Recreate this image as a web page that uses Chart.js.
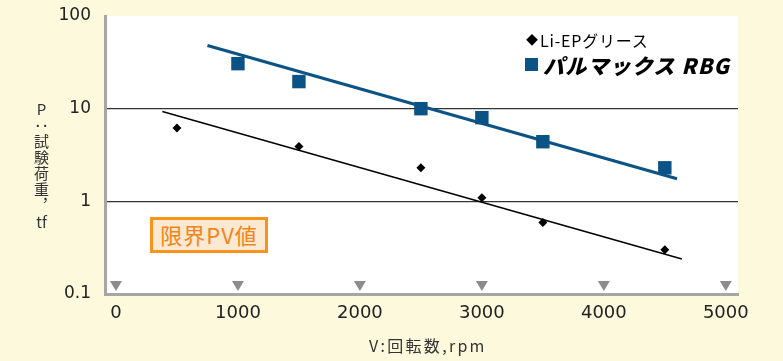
<!DOCTYPE html>
<html>
<head>
<meta charset="utf-8">
<script src="https://cdn.jsdelivr.net/npm/chart.js@4"></script>
<style>
  body { margin: 0; background: #fcf9dc; }
  #wrap { position: relative; width: 783px; height: 361px; }
  canvas { position: absolute; left: 0; top: 0; }
  .txt { position: absolute; color: #222; white-space: nowrap; font-family: "Noto Sans CJK JP", sans-serif; }
</style>
</head>
<body>
<div id="wrap">
  <canvas id="pvChart" width="783" height="361"></canvas>
  <div class="txt" id="ytitle" style="left:31px; top:102px; font-size:15px; writing-mode:vertical-rl; text-orientation:upright; letter-spacing:1px; color:#333;">P：試験荷重，<span style="text-combine-upright:all; letter-spacing:2px;">tf</span></div>
  <div class="txt" style="left:369px; top:333px; font-size:16px; letter-spacing:2.3px; color:#333;">V:回転数,rpm</div>
  <div class="txt" style="left:526px; top:31px; font-size:12px; color:#000;">◆</div>
  <div class="txt" style="left:540px; top:28px; font-size:16px; letter-spacing:0.8px; color:#000;">Li-EPグリース</div>
  <div style="position:absolute; left:525px; top:58px; width:13px; height:13px; background:#0b5285;"></div>
  <div class="txt" style="left:543px; top:50px; font-size:21px; font-weight:900; font-style:italic; letter-spacing:1.2px; color:#000;">パルマックス RBG</div>
  <div class="txt" style="left:150px; top:217px; width:118px; height:36px; box-sizing:border-box; border:3px solid #f7931e; background:#fde8d2; color:#f08519; font-size:22px; line-height:29px; letter-spacing:1px; text-align:center;">限界PV値</div>
</div>
<script>
// 目盛り
const xTicks = [0, 1000, 2000, 3000, 4000, 5000];
const yTicks = [0.1, 1, 10, 100];

// パルマックスRBG（測定値）
const rbgRpm = [1000, 1500, 2500, 3000, 3500, 4500];
const rbgLoad = [30.6, 19.6, 10, 8.0, 4.4, 2.3];

// Li-EPグリース（測定値）
const liRpm = [500, 1500, 2500, 3000, 3500, 4500];
const liLoad = [6.2, 3.9, 2.3, 1.09, 0.59, 0.30];

// 近似線
const rbgFitRpm = [750, 4600];
const rbgFitLoad = [48, 1.75];
const liFitRpm = [380, 4640];
const liFitLoad = [9.3, 0.239];

const toXY = (xs, ys) => xs.map((x, i) => ({ x: x, y: ys[i] }));

// 背景と▼マーカー
const decoPlugin = {
  id: 'deco',
  beforeDraw(chart) {
    const { ctx, chartArea: a } = chart;
    ctx.save();
    ctx.fillStyle = '#fcf9dc';
    ctx.fillRect(0, 0, chart.width, chart.height);
    ctx.fillStyle = '#ffffff';
    ctx.fillRect(a.left, a.top, a.right - a.left, a.bottom - a.top);
    ctx.restore();
  },
  beforeDatasetsDraw(chart) {
    const { ctx, chartArea: a } = chart;
    const xs = chart.scales.x;
    ctx.save();
    ctx.fillStyle = '#8c8c8c';
    xTicks.forEach(v => {
      const px = xs.getPixelForValue(v);
      ctx.beginPath();
      ctx.moveTo(px - 6, a.bottom - 13);
      ctx.lineTo(px + 6, a.bottom - 13);
      ctx.lineTo(px, a.bottom - 3);
      ctx.closePath();
      ctx.fill();
    });
    ctx.restore();
  }
};

new Chart(document.getElementById('pvChart').getContext('2d'), {
  type: 'scatter',
  data: {
    datasets: [
      {
        type: 'line',
        data: toXY(rbgFitRpm, rbgFitLoad),
        borderColor: '#0b5285',
        borderWidth: 3,
        pointRadius: 0,
        fill: false
      },
      {
        type: 'line',
        data: toXY(liFitRpm, liFitLoad),
        borderColor: '#000000',
        borderWidth: 1.5,
        pointRadius: 0,
        fill: false
      },
      {
        label: 'パルマックスRBG',
        data: toXY(rbgRpm, rbgLoad),
        pointStyle: 'rect',
        pointRadius: 9.5,
        backgroundColor: '#0b5285',
        borderWidth: 0
      },
      {
        label: 'Li-EPグリース',
        data: toXY(liRpm, liLoad),
        pointStyle: 'rectRot',
        pointRadius: 4.5,
        backgroundColor: '#000000',
        borderWidth: 0
      }
    ]
  },
  options: {
    responsive: false,
    animation: false,
    devicePixelRatio: 1,
    layout: { padding: { top: 16, right: 45, left: 0, bottom: 0 } },
    plugins: { legend: { display: false }, tooltip: { enabled: false } },
    scales: {
      x: {
        type: 'linear',
        min: -90,
        max: 5100,
        afterBuildTicks: s => { s.ticks = xTicks.map(v => ({ value: v })); },
        afterFit: s => { s.height = 67; },
        grid: { display: false, drawTicks: false },
        border: { color: '#a6a6a6', width: 3 },
        ticks: {
          padding: 9,
          color: '#222',
          font: { family: 'DejaVu Sans', size: 18 },
          maxRotation: 0,
          callback: v => String(v)
        }
      },
      y: {
        type: 'logarithmic',
        min: 0.1,
        max: 100,
        afterBuildTicks: s => { s.ticks = yTicks.map(v => ({ value: v })); },
        afterFit: s => { s.width = 105; s.paddingTop = 0; s.paddingBottom = 0; },
        grid: {
          drawTicks: false,
          color: c => (c.tick && (c.tick.value === 1 || c.tick.value === 10)) ? '#333333' : 'rgba(0,0,0,0)',
          lineWidth: 1.2
        },
        border: { color: '#a6a6a6', width: 3 },
        ticks: {
          padding: 14,
          color: '#222',
          font: { family: 'DejaVu Sans', size: 17 },
          callback: v => String(v)
        }
      }
    }
  },
  plugins: [decoPlugin]
});
</script>
</body>
</html>
